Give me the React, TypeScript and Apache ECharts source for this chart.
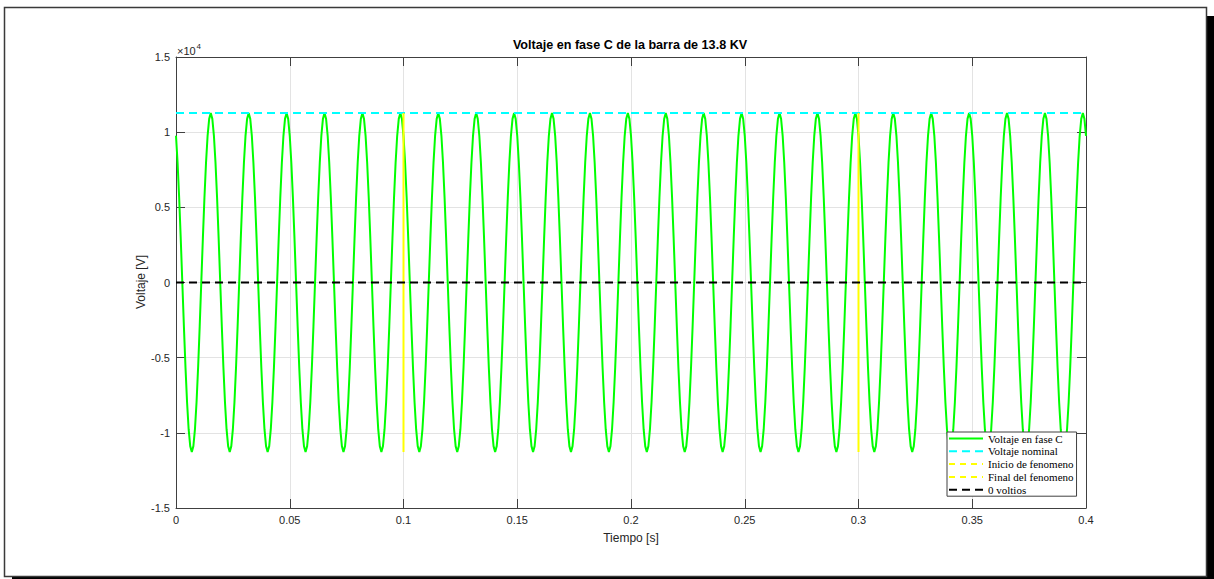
import React, { useEffect, useRef } from "react";
import * as echarts from "echarts";

// One period of the phase-C voltage (V), 15° steps starting at t = 0
const cycleVolts = [
  9758, 7968, 5634, 2916, 0, -2916, -5634, -7968, -9758, -10884, -11268, -10884,
  -9758, -7968, -5634, -2916, 0, 2916, 5634, 7968, 9758, 10884, 11268, 10884,
];
const cycleCount = 24;
const cyclePeriod = 1 / 60; // s
const endTime = 0.4;
const endVolts = 9758;

const nominalVolts = 11268;
const eventStart = 0.1;
const eventEnd = 0.3;
const eventLow = -11268;
const eventHigh = 11268;

const xTicks = { min: 0, max: 0.4, interval: 0.05 };
const yTicks = { min: -15000, max: 15000, interval: 5000 };

const seriesNames = [
  "Voltaje en fase C",
  "Voltaje nominal",
  "Inicio de fenomeno",
  "Final del fenomeno",
  "0 voltios",
];

function buildPhase(): number[][] {
  const out: number[][] = [];
  const n = cycleVolts.length;
  for (let c = 0; c < cycleCount; c++) {
    for (let i = 0; i < n; i++) {
      out.push([((c * n + i) * cyclePeriod) / n, cycleVolts[i]]);
    }
  }
  out.push([endTime, endVolts]);
  return out;
}

export default function App() {
  const ref = useRef<HTMLDivElement>(null);
  useEffect(() => {
    if (!ref.current) return;
    const chart = echarts.init(ref.current, null, { renderer: "svg" });
    const axisColor = "#404040";
    const textColor = "#262626";
    const sans = "'Liberation Sans', Arial, Helvetica, sans-serif";
    const serif = "'Liberation Serif', 'Times New Roman', serif";
    const baseAxis = {
      axisLine: { show: true, onZero: false, lineStyle: { color: axisColor, width: 1 } },
      axisTick: { show: true, inside: true, length: 9, lineStyle: { color: axisColor } },
    };
    chart.setOption({
      animation: false,
      backgroundColor: "#ffffff",
      grid: { left: 176, top: 57, width: 910, height: 451, containLabel: false },
      graphic: [
        { type: "rect", z: -20, shape: { x: 12, y: 16, width: 1202, height: 563 }, style: { fill: "#000" } },
        {
          type: "rect",
          z: -19,
          shape: { x: 4.5, y: 7.5, width: 1202, height: 569 },
          style: { fill: "#fff", stroke: "#3a3a3a", lineWidth: 1.5 },
        },
        {
          type: "text",
          z: 10,
          x: 630,
          y: 45,
          style: {
            text: "Voltaje en fase C de la barra de 13.8 KV",
            font: "bold 12.6px " + sans,
            fill: "#000",
            align: "center",
            verticalAlign: "middle",
          },
        },
        {
          type: "text",
          z: 10,
          x: 631,
          y: 538,
          style: { text: "Tiempo [s]", font: "12px " + sans, fill: textColor, align: "center", verticalAlign: "middle" },
        },
        {
          type: "text",
          z: 10,
          x: 141,
          y: 282,
          rotation: Math.PI / 2,
          style: { text: "Voltaje [V]", font: "12px " + sans, fill: textColor, align: "center", verticalAlign: "middle" },
        },
        {
          type: "text",
          z: 10,
          x: 177,
          y: 51,
          style: { text: "×10", font: "11px " + sans, fill: textColor, align: "left", verticalAlign: "middle" },
        },
        {
          type: "text",
          z: 10,
          x: 196.5,
          y: 46,
          style: { text: "4", font: "8px " + sans, fill: textColor, align: "left", verticalAlign: "middle" },
        },
      ],
      legend: {
        orient: "vertical",
        left: 947,
        top: 432,
        padding: [1, 3, 1, 1],
        itemGap: 1.8,
        itemWidth: 34,
        itemHeight: 10,
        backgroundColor: "#fff",
        borderColor: "#404040",
        borderWidth: 1,
        borderRadius: 0,
        itemStyle: { opacity: 0 },
        textStyle: { fontFamily: serif, fontSize: 11, color: "#000", lineHeight: 10 },
        data: [
          { name: seriesNames[0] },
          { name: seriesNames[1] },
          { name: seriesNames[2], lineStyle: { type: [6, 5] } },
          { name: seriesNames[3], lineStyle: { type: [6, 5] } },
          { name: seriesNames[4] },
        ],
      },
      xAxis: [
        {
          type: "value",
          position: "bottom",
          min: xTicks.min,
          max: xTicks.max,
          interval: xTicks.interval,
          ...baseAxis,
          axisLabel: {
            color: textColor,
            fontSize: 11,
            fontFamily: sans,
            margin: 6,
            formatter: (v: number) => String(Math.round(v * 100) / 100),
          },
          splitLine: { show: true, lineStyle: { color: "#e3e3e3", width: 1 } },
        },
        {
          type: "value",
          position: "top",
          min: xTicks.min,
          max: xTicks.max,
          interval: xTicks.interval,
          ...baseAxis,
          axisLabel: { show: false },
          splitLine: { show: false },
        },
      ],
      yAxis: [
        {
          type: "value",
          position: "left",
          min: yTicks.min,
          max: yTicks.max,
          interval: yTicks.interval,
          ...baseAxis,
          axisLabel: {
            color: textColor,
            fontSize: 11,
            fontFamily: sans,
            margin: 6,
            formatter: (v: number) => String(Math.round(v / 1000) / 10),
          },
          splitLine: { show: true, lineStyle: { color: "#e3e3e3", width: 1 } },
        },
        {
          type: "value",
          position: "right",
          min: yTicks.min,
          max: yTicks.max,
          interval: yTicks.interval,
          ...baseAxis,
          axisLabel: { show: false },
          splitLine: { show: false },
        },
      ],
      series: [
        {
          name: seriesNames[0],
          type: "line",
          symbol: "none",
          data: buildPhase(),
          lineStyle: { color: "#00ff00", width: 2 },
          itemStyle: { color: "#00ff00" },
          z: 2,
        },
        {
          name: seriesNames[1],
          type: "line",
          symbol: "none",
          data: [
            [xTicks.min, nominalVolts],
            [xTicks.max, nominalVolts],
          ],
          lineStyle: { color: "#00ffff", width: 2, type: [8, 5] },
          itemStyle: { color: "#00ffff" },
          z: 3,
        },
        {
          name: seriesNames[2],
          type: "line",
          symbol: "none",
          data: [
            [eventStart, eventLow],
            [eventStart, eventHigh],
          ],
          lineStyle: { color: "#ffff00", width: 2 },
          itemStyle: { color: "#ffff00" },
          z: 4,
        },
        {
          name: seriesNames[3],
          type: "line",
          symbol: "none",
          data: [
            [eventEnd, eventLow],
            [eventEnd, eventHigh],
          ],
          lineStyle: { color: "#ffff00", width: 2 },
          itemStyle: { color: "#ffff00" },
          z: 4,
        },
        {
          name: seriesNames[4],
          type: "line",
          symbol: "none",
          data: [
            [xTicks.min, 0],
            [xTicks.max, 0],
          ],
          lineStyle: { color: "#000000", width: 2, type: [8, 5] },
          itemStyle: { color: "#000000" },
          z: 5,
        },
      ],
    });
    return () => chart.dispose();
  }, []);
  return (
    <div
      ref={ref}
      style={{ position: "absolute", left: 0, top: 0, width: 1214, height: 579 }}
    />
  );
}
